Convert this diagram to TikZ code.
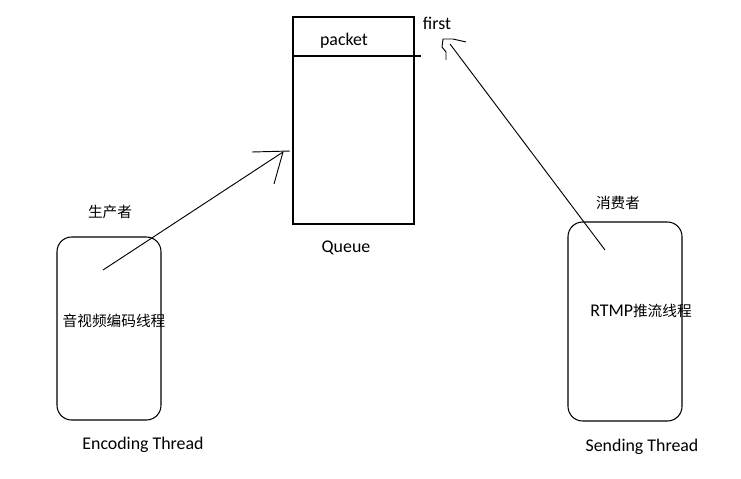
\documentclass[tikz,border=0pt]{standalone}
\usepackage{fontspec}
\setmainfont{Carlito}
\newfontfamily\cjk{Noto Sans CJK SC}
\usetikzlibrary{positioning}
\tikzset{
  thread/.style={draw, rounded corners=11pt, line width=0.8pt, inner sep=0pt},
  lbl/.style={font=\fontsize{13.4}{15}\selectfont, inner sep=0pt},
  cjklbl/.style={font=\fontsize{11}{13}\selectfont\cjk, inner sep=0pt},
  hand/.style={line width=0.7pt}
}
\begin{document}
\begin{tikzpicture}[x=0.75pt,y=-0.75pt]
  \useasboundingbox (0,0) rectangle (741,478);

  % queue
  \node [draw, line width=0.8pt, minimum width=121*0.75pt, minimum height=207*0.75pt, inner sep=0pt] (Q) at (353.5,120.5) {};
  \draw [line width=0.8pt] (292,56) -- (421,56);
  \node [lbl] (packet) at (344,41) {packet};
  \node [lbl] (first) at (437,23) {first};
  \node [lbl] (queue) at (346,248) {Queue};

  % threads
  \node [thread, minimum width=104*0.75pt, minimum height=183*0.75pt] (enc) at (109,328.5) {};
  \node [thread, minimum width=114*0.75pt, minimum height=199*0.75pt] (snd) at (625,321.5) {};

  \node [cjklbl] (prod) at (110,212) {生产者};
  \node [cjklbl] (cons) at (618,203) {消费者};
  \node [cjklbl] (enctxt) at (114,321) {音视频编码线程};
  \node [cjklbl] (sndtxt) at (641,311) {{\rmfamily\fontsize{13.4}{15}\selectfont RTMP}推流线程};
  \node [lbl] (encname) at (143,445) {Encoding Thread};
  \node [lbl] (sndname) at (642,447) {Sending Thread};

  % hand drawn arrows
  \coordinate (p0) at (103,270);
  \coordinate (p1) at (283,152);
  \draw [hand] (p0) -- (p1);
  \draw [hand] (252,152) -- (290,151);
  \draw [hand] (p1) -- (274,184);

  \coordinate (c0) at (605,250);
  \coordinate (c1) at (450,44);
  \draw [hand] (c0) -- (c1);
  \draw [hand] (466,42) -- (453,39) -- (443,39) -- (442,47) -- (446,52) -- (446,60);
\end{tikzpicture}
\end{document}
